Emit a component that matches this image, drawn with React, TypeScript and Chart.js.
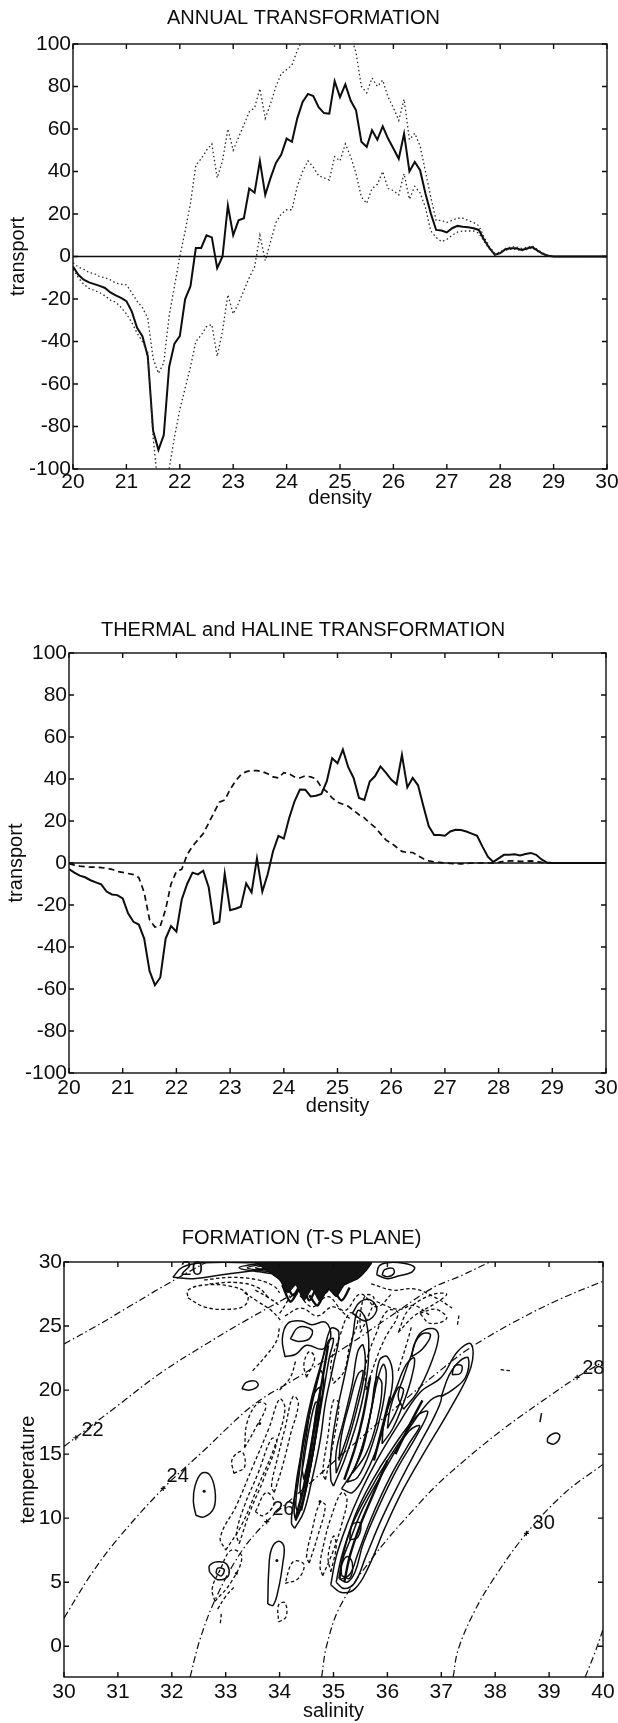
import React, { useEffect, useRef } from 'react';
import { Chart, registerables } from 'chart.js';

Chart.register(...registerables);

const FONT = '"Liberation Sans", Arial, Helvetica, sans-serif';
const INK = '#0d0d0d';

// ---------- Panel 1 & 2 : density axis ----------
const density = [
  20.0, 20.1, 20.2, 20.3, 20.4, 20.5, 20.6, 20.7, 20.8, 20.9,
  21.0, 21.1, 21.2, 21.3, 21.4, 21.5, 21.6, 21.7, 21.8, 21.9,
  22.0, 22.1, 22.2, 22.3, 22.4, 22.5, 22.6, 22.7, 22.8, 22.9,
  23.0, 23.1, 23.2, 23.3, 23.4, 23.5, 23.6, 23.7, 23.8, 23.9,
  24.0, 24.1, 24.2, 24.3, 24.4, 24.5, 24.6, 24.7, 24.8, 24.9,
  25.0, 25.1, 25.2, 25.3, 25.4, 25.5, 25.6, 25.7, 25.8, 25.9,
  26.0, 26.1, 26.2, 26.3, 26.4, 26.5, 26.6, 26.7, 26.8, 26.9,
  27.0, 27.1, 27.2, 27.3, 27.4, 27.5, 27.6, 27.7, 27.8, 27.9,
  28.0, 28.1, 28.2, 28.3, 28.4, 28.5, 28.6, 28.7, 28.8, 28.9,
  29.0, 30.0,
];

const annualMean = [
  -4.7, -8.6, -10.9, -12.2, -13, -13.8, -14.8, -16.9, -18.3, -19.5,
  -21, -25.8, -33.6, -37.5, -46.9, -82, -91, -84, -52, -41,
  -37.5, -20, -14, 4, 4, 10, 9, -5.5, 0, 24,
  10, 17, 18, 32, 30, 45, 29, 37, 44, 48,
  55.5, 54, 65, 72.7, 76.5, 75.5, 70.3, 67.5, 67.2, 82.5,
  75, 81, 73.4, 68.8, 54, 51.6, 59.4, 55, 61.3, 55.5,
  50.8, 46, 57.8, 40, 44.5, 40.6, 29.7, 20.3, 12.5, 12.2,
  11.3, 13.3, 14.4, 14, 13.8, 13.3, 12.5, 7.8, 3.9, 0.8,
  1.6, 3.4, 3.9, 3.9, 3.1, 3.8, 4.4, 2.8, 1.3, 0.3,
  0, 0,
];

const annualUpper = [
  -3, -5, -6, -7.5, -8, -9.5, -10, -11, -12.5, -13,
  -13.3, -17, -21, -24, -29, -48, -55, -50, -28, -14,
  0, 12, 25, 43, 46, 50, 53, 37, 45, 60,
  50, 56, 62, 68, 70, 79, 65, 72, 80, 86,
  88, 90, 97, 102, 106, 108, 108, 105, 101, 99,
  102, 100, 104, 96, 80, 77, 84, 80, 83, 75,
  70, 64, 74, 55, 58, 52, 40, 28, 17, 17,
  16, 17, 18, 18, 17, 16, 14.5, 9, 4.5, 1.5,
  2, 3.8, 4.5, 4.5, 3.8, 4.3, 5, 3.3, 1.6, 0.5,
  0, 0,
];

const annualLower = [
  -6, -10, -13, -15, -16, -17, -18.5, -20.5, -21.5, -24,
  -27, -31, -36, -40, -45, -85, -110, -130, -100, -85,
  -72, -62, -52, -40, -37, -33, -32, -47, -35, -18,
  -27, -22, -16, -10, -5, 10, -2, 7, 16, 20,
  22, 22, 33, 40, 45, 42, 38, 37, 36, 47,
  45, 53, 47, 39, 28, 25, 32, 34, 40, 32,
  31, 29, 39, 27, 33, 30, 23, 12, 9, 7,
  8, 10, 11.5, 12, 12, 12, 11, 7, 3.5, 1,
  1.5, 3, 3.4, 3.4, 2.6, 3.3, 4, 2.4, 1, 0.2,
  0, 0,
];

const thermal = [
  -2.9, -4.6, -6, -6.8, -8.2, -9.2, -10.2, -13.6, -15, -15.3,
  -16.9, -24, -28, -29.3, -36, -51.4, -58.2, -54.5, -36, -30,
  -32.7, -17.4, -10, -4.6, -5.4, -3.7, -11.4, -29, -28, -5,
  -22.5, -21.8, -20.8, -9.7, -14, 2.2, -13.6, -5.4, 5.6, 12.9,
  11.6, 21.4, 29.4, 35, 34.9, 31.7, 32, 32.9, 38.8, 49.9,
  47.5, 54, 45.6, 40.5, 31, 30, 38.8, 41.4, 46, 43,
  39.7, 37.5, 51.5, 36, 40.5, 37, 27, 17.5, 13.3, 13.3,
  13, 15, 15.8, 15.7, 15, 14, 13, 7.8, 3, 0.5,
  2.2, 3.9, 3.9, 4.2, 3.6, 4.3, 4.8, 3.9, 1.7, 0.2,
  0, 0,
];

const haline = [
  -0.3, -1, -1.5, -1.7, -2, -2, -2.2, -2.5, -3, -4,
  -4.5, -5, -5.5, -7, -14, -27, -30.5, -30, -22, -10,
  -4, -3, 4, 8, 11, 14, 19, 24, 29, 30,
  35, 39, 42, 43.5, 44, 44, 43.5, 42.5, 41, 40.5,
  43, 42.5, 41, 40.5, 41.5, 41, 40, 36, 34, 31,
  29, 28, 27, 25, 23, 21.5, 19, 17, 14, 11,
  9.5, 7.5, 5.5, 5, 5, 3.5, 2, 1, 0.5, 0.3,
  0, -0.2, -0.3, -0.4, -0.2, 0, 0, 0, 0, 0,
  0.3, 0.8, 1, 1, 0.8, 0.8, 1, 0.8, 0.3, 0,
  0, 0,
];

const zeroLineX = [20, 30];
const zeroLineY = [0, 0];

const densityTicks = [20, 21, 22, 23, 24, 25, 26, 27, 28, 29, 30];
const transportTicks = [-100, -80, -60, -40, -20, 0, 20, 40, 60, 80, 100];

// ---------- Panel 3 : T-S plane ----------
const salinityTicks = [30, 31, 32, 33, 34, 35, 36, 37, 38, 39, 40];
const temperatureTicks = [0, 5, 10, 15, 20, 25, 30];

// isopycnals (salinity, temperature)
const iso20 = [[30, 23.6], [30.6, 25.0], [31.2, 26.5], [31.8, 28.0], [32.3, 29.2], [32.65, 30]];
const iso22 = [[30, 15.6], [30.5, 17.2], [31.0, 18.8], [31.78, 21.3], [32.6, 23.5], [33.4, 25.5], [34.3, 27.6], [35.2, 29.5], [35.45, 30]];
const iso24 = [[30, 2.2], [30.5, 5.6], [31.0, 8.4], [31.84, 12.32], [32.6, 15.3], [33.5, 18.8], [34.3, 20.9], [35.2, 23.3], [36.0, 25.6], [36.85, 28.0], [37.35, 28.9], [37.9, 30]];
const iso26 = [[32.34, -2.4], [32.52, 0.5], [32.8, 3.6], [33.27, 7.26], [33.76, 9.73], [34.5, 12.5], [35.3, 15.5], [36.2, 18.8], [37.0, 21.6], [37.5, 23.2], [38.3, 25.2], [39.2, 27.1], [40, 28.5]];
const iso28 = [[34.78, -2.4], [34.87, 0], [35.12, 3.1], [35.74, 7.0], [36.6, 11.2], [37.1, 13.3], [38.1, 16.8], [39.08, 19.75], [39.52, 21.0], [40, 22.2]];
const iso30 = [[37.22, -2.4], [37.31, -0.3], [37.6, 2.6], [37.96, 5.2], [38.58, 8.82], [39.3, 12.0], [40, 14.2]];
const iso32 = [[39.67, -2.4], [39.85, -0.5], [40, 1.3]];

const isoLabelText = ['20', '22', '24', '26', '28', '30'];
const isoLabelPos = [[32.37, 29.45], [30.53, 16.85], [32.11, 13.22], [34.07, 10.64], [39.82, 21.65], [38.9, 9.58]];
const isoMarkerPos = [[30.22, 16.28], [31.84, 12.32], [33.76, 9.73], [39.52, 21.0], [38.58, 8.82]];

// dense surface patch (overlapping contours merge into solid ink)
const surfacePatch = [[33.55, 30], [33.75, 29.4], [34.0, 28.6], [34.15, 27.6], [34.3, 28.2], [34.45, 27.0], [34.6, 27.9], [34.75, 26.9], [34.9, 27.9], [35.05, 27.3], [35.2, 28.2], [35.45, 28.7], [35.6, 29.3], [35.7, 30], [33.55, 30]];

// positive (solid) formation contours
const solidContours = [
  [[32.02, 28.8], [32.2, 29.6], [32.6, 29.95], [33.4, 29.95], [34.0, 29.8], [33.6, 29.4], [33.0, 29.05], [32.4, 28.7], [32.02, 28.8]],
  [[33.85, 30], [33.25, 29.55], [33.85, 29.1]],
  [[33.85, 29.92], [33.4, 29.55], [33.85, 29.22]],
  [[33.85, 29.82], [33.55, 29.55], [33.85, 29.35]],
  [[35.8, 29.0], [35.85, 29.7], [36.0, 29.95], [36.3, 29.9], [36.5, 29.6], [36.45, 29.2], [36.2, 28.9], [36.0, 28.7], [35.8, 29.0]],
  [[35.9, 29.0], [35.95, 29.4], [36.1, 29.5], [36.12, 29.1], [36.0, 28.85], [35.9, 29.0]],
  [[35.35, 26.0], [35.5, 26.9], [35.7, 27.0], [35.8, 26.2], [35.6, 25.4], [35.35, 26.0]],
  [[34.1, 22.6], [34.05, 24.0], [34.15, 25.2], [34.4, 25.4], [34.6, 25.1], [34.85, 25.3], [34.95, 24.2], [34.8, 23.2], [34.5, 23.5], [34.3, 22.8], [34.1, 22.6]],
  [[34.2, 24.0], [34.35, 24.9], [34.6, 24.7], [34.55, 24.0], [34.35, 23.8], [34.2, 24.0]],
  // band A
  [[34.28, 9.2], [34.45, 10.5], [34.6, 13], [34.75, 16], [34.85, 19], [35.0, 22], [35.1, 24.5], [34.95, 24.8], [34.8, 22.5], [34.6, 19.5], [34.45, 16.5], [34.35, 13.5], [34.25, 11], [34.22, 9.6], [34.28, 9.2]],
  [[34.3, 9.8], [34.42, 11], [34.55, 13.5], [34.68, 16.5], [34.8, 19.5], [34.92, 22.5], [35.0, 24], [34.9, 23.8], [34.72, 21], [34.55, 18], [34.4, 15], [34.3, 12.5], [34.27, 10.5], [34.3, 9.8]],
  [[34.35, 10.3], [34.5, 12.5], [34.62, 15], [34.72, 18], [34.82, 20.8], [34.75, 21.5], [34.6, 19], [34.45, 16], [34.35, 13], [34.3, 11], [34.35, 10.3]],
  [[34.4, 11.5], [34.52, 13.5], [34.63, 16.5], [34.72, 19], [34.66, 19], [34.55, 17], [34.45, 14.5], [34.38, 12.5], [34.4, 11.5]],
  [[34.45, 13], [34.58, 15.5], [34.68, 18.5], [34.75, 20.2], [34.62, 19.5], [34.5, 16.5], [34.42, 14], [34.45, 13]],
  [[35.0, 12.5], [35.2, 14.5], [35.4, 17], [35.55, 19.5], [35.65, 22.5], [35.6, 25.5], [35.45, 26.2], [35.35, 24], [35.2, 21], [35.05, 18], [34.95, 15], [34.95, 13], [35.0, 12.5]],
  [[35.05, 13.5], [35.25, 15.8], [35.42, 18.3], [35.58, 21.5], [35.55, 23.5], [35.45, 23.0], [35.35, 20.5], [35.2, 17.8], [35.05, 15.2], [35.05, 13.5]],
  [[35.1, 14.5], [35.3, 17], [35.45, 19.5], [35.55, 21.5], [35.45, 21.2], [35.3, 19], [35.15, 16.5], [35.1, 14.5]],
  // band C
  [[35.15, 12.3], [35.4, 14], [35.6, 16.5], [35.75, 19.5], [35.85, 22.3], [36.0, 22.6], [36.1, 21], [36.0, 18.5], [35.85, 16], [35.6, 13.5], [35.35, 12.0], [35.15, 12.3]],
  [[35.25, 12.8], [35.45, 14.5], [35.65, 17.5], [35.8, 20.5], [35.92, 22.0], [35.98, 21.2], [35.9, 18.5], [35.7, 15.5], [35.45, 13.2], [35.25, 12.8]],
  [[35.35, 13.5], [35.55, 15.5], [35.7, 18.5], [35.8, 21], [35.9, 20.5], [35.8, 17.5], [35.6, 15], [35.35, 13.5]],
  [[35.9, 15.8], [36.1, 17], [36.3, 19], [36.45, 21], [36.5, 22.5], [36.35, 22], [36.15, 20], [35.95, 17.8], [35.9, 15.8]],
  [[36.0, 17.0], [36.15, 18.2], [36.3, 20], [36.2, 20.2], [36.05, 18.5], [36.0, 17.0]],
  // band B
  [[34.95, 4.8], [35.15, 4.2], [35.4, 4.5], [35.65, 6.2], [35.95, 9.2], [36.3, 12.3], [36.75, 15.6], [37.2, 18.8], [37.55, 21.8], [37.55, 23.6], [37.3, 23.0], [37.0, 21.0], [36.6, 19.8], [36.2, 17.3], [35.8, 14.5], [35.5, 12.0], [35.25, 9.5], [35.05, 7.0], [34.95, 4.8]],
  [[35.05, 5.0], [35.2, 4.5], [35.4, 5.0], [35.6, 7.0], [35.9, 10], [36.25, 13], [36.6, 15.8], [36.9, 18.2], [37.0, 19.5], [36.8, 19.2], [36.4, 17.0], [36.0, 14.5], [35.65, 12.0], [35.35, 9.5], [35.15, 7.0], [35.05, 5.0]],
  [[35.12, 5.2], [35.3, 5.6], [35.45, 7.2], [35.7, 10], [36.05, 13.2], [36.4, 15.8], [36.6, 17.2], [36.4, 16.8], [35.95, 13.8], [35.55, 10.8], [35.3, 8.2], [35.15, 6.5], [35.12, 5.2]],
  [[35.1, 5.3], [35.25, 5.0], [35.4, 5.8], [35.55, 8.0], [35.85, 11], [36.2, 14], [36.55, 16.5], [36.75, 18.3], [36.55, 18.0], [36.1, 15.5], [35.7, 12.8], [35.4, 10.2], [35.2, 7.5], [35.1, 5.3]],
  [[35.15, 5.5], [35.3, 5.3], [35.35, 6.5], [35.25, 7.0], [35.15, 6.3], [35.15, 5.5]],
  [[35.3, 8.3], [35.45, 8.5], [35.5, 9.6], [35.35, 9.5], [35.3, 8.3]],
  // band D
  [[37.0, 19.5], [37.2, 20.0], [37.45, 21.0], [37.5, 22.5], [37.35, 22.3], [37.15, 21.2], [37.0, 19.5]],
  [[37.2, 21.2], [37.35, 21.3], [37.38, 21.9], [37.25, 21.9], [37.2, 21.2]],
  [[36.3, 18.5], [36.55, 19.8], [36.8, 22], [36.95, 24.2], [36.85, 24.8], [36.6, 24.4], [36.45, 22.8], [36.3, 21], [36.2, 19.5], [36.3, 18.5]],
  [[36.45, 22.6], [36.65, 23.2], [36.8, 24.3], [36.65, 24.4], [36.5, 23.6], [36.45, 22.6]],
  // isolated cells
  [[33.3, 20.1], [33.45, 20.0], [33.6, 20.35], [33.55, 20.7], [33.38, 20.6], [33.3, 20.1]],
  [[32.45, 10.2], [32.6, 10.1], [32.78, 10.8], [32.8, 12.2], [32.7, 13.4], [32.55, 13.5], [32.43, 12.5], [32.4, 11.3], [32.45, 10.2]],
  [[32.7, 5.8], [32.85, 5.2], [33.05, 5.5], [33.02, 6.4], [32.85, 6.6], [32.7, 6.3], [32.7, 5.8]],
  [[32.82, 5.7], [32.92, 5.5], [32.97, 6.0], [32.85, 6.1], [32.82, 5.7]],
  [[33.78, 3.3], [33.88, 3.2], [33.98, 4.5], [34.06, 6.5], [34.08, 7.8], [33.98, 8.2], [33.85, 7.6], [33.8, 6.0], [33.78, 3.3]],
  [[38.97, 15.9], [39.1, 15.8], [39.2, 16.4], [39.12, 16.65], [38.98, 16.3], [38.97, 15.9]],
  [[38.83, 17.5], [38.86, 18.2]],
];

// densely packed contours (merging into heavy ink)
const denseContours = [
  [[33.55, 30], [33.7, 29.6], [33.9, 29.0], [34.1, 28.4], [34.25, 27.4], [34.4, 28.2], [34.55, 27.0], [34.7, 28.0], [34.85, 27.6], [35.0, 28.5], [35.2, 28.3], [35.4, 29.0], [35.6, 29.6], [35.65, 30]],
  [[34.05, 28.2], [34.2, 26.9], [34.35, 27.8]],
  [[34.55, 27.4], [34.7, 26.6], [34.82, 27.5]],
  [[35.0, 27.9], [35.15, 27.0], [35.3, 28.0]],
  [[34.3, 10.0], [34.45, 12.5], [34.58, 15.5], [34.7, 18.5], [34.82, 21.5], [34.9, 23.5]],
  [[34.4, 10.6], [34.52, 13.0], [34.65, 16.0], [34.78, 19.5]],
  [[35.2, 13.0], [35.4, 15.5], [35.55, 18.0], [35.68, 21.0]],
  [[35.75, 14.5], [35.9, 17.0], [36.05, 19.5]],
  [[35.2, 5.0], [35.3, 7.0], [35.5, 9.5], [35.75, 12.0], [36.0, 14.5]],
  [[36.15, 15.0], [36.4, 17.2], [36.65, 19.2]],
];

// negative (dashed) formation contours
const dashedContours = [
  [[32.3, 27.2], [32.6, 26.5], [33.0, 26.3], [33.35, 26.6], [33.4, 27.5], [33.1, 28.1], [32.6, 28.2], [32.3, 27.8], [32.3, 27.2]],
  [[32.6, 28.6], [33.1, 28.8], [33.6, 28.6], [33.9, 28.1], [34.0, 27.6]],
  [[32.7, 28.3], [33.2, 28.4], [33.6, 28.0], [33.8, 27.2]],
  [[33.35, 27.6], [33.6, 26.9], [33.85, 26.2], [34.05, 25.3]],
  [[33.55, 27.8], [33.8, 27.2], [34.0, 26.6]],
  [[34.0, 26.0], [34.3, 27.5], [34.6, 26.5], [34.9, 27.3], [35.2, 26.2], [35.5, 27.5], [35.8, 26.5], [36.1, 27.6]],
  [[34.1, 25.8], [34.4, 26.4], [34.7, 25.8], [35.0, 26.5], [35.3, 25.6]],
  [[35.7, 28.3], [36.1, 27.8], [36.5, 27.9], [36.9, 27.2], [37.2, 26.4]],
  [[35.8, 26.9], [36.2, 26.3], [36.5, 26.6], [36.8, 25.8]],
  [[36.6, 26.0], [36.9, 26.3], [37.1, 25.6], [36.8, 25.2], [36.6, 26.0]],
  [[36.2, 24.5], [36.5, 25.8], [36.9, 26.8], [37.1, 27.5], [36.8, 27.4], [36.4, 26.3], [36.2, 24.5]],
  [[35.5, 24.5], [35.65, 25.8], [35.75, 27.2], [35.6, 27.4], [35.5, 26], [35.5, 24.5]],
  [[35.6, 20], [35.8, 22.5], [35.95, 24], [36.2, 26], [36.0, 26.2], [35.8, 24.5], [35.6, 22], [35.6, 20]],
  [[36.2, 21.5], [36.35, 23.5], [36.45, 25.0]],
  [[35.0, 20.5], [35.2, 21.5], [35.3, 23.5], [35.45, 25.5], [35.3, 26], [35.1, 24], [34.95, 22], [35.0, 20.5]],
  [[34.5, 21], [34.65, 22.5], [34.55, 23], [34.45, 22], [34.5, 21]],
  [[33.5, 21.5], [33.75, 22.7], [33.95, 23.9], [34.0, 25.0]],
  [[34.0, 20.0], [34.2, 21.0], [34.3, 22.3]],
  [[33.0, 7.5], [33.3, 9.5], [33.6, 12.5], [33.9, 15.5], [34.1, 18.5], [34.0, 19.3], [33.8, 17], [33.5, 14], [33.2, 11], [32.9, 8.5], [33.0, 7.5]],
  [[33.25, 8], [33.45, 10.5], [33.7, 13], [33.95, 16], [33.85, 16.2], [33.6, 13.5], [33.35, 11], [33.2, 8.8], [33.25, 8]],
  [[33.55, 10.5], [33.75, 12], [33.9, 11.2], [33.7, 10.2], [33.55, 10.5]],
  [[33.15, 13.5], [33.35, 14], [33.3, 15.2], [33.12, 14.6], [33.15, 13.5]],
  [[33.35, 15.5], [33.55, 17], [33.75, 18.8], [33.6, 19], [33.4, 17.5], [33.35, 15.5]],
  [[33.9, 12], [34.05, 14], [34.2, 16.5], [34.35, 19], [34.25, 19.5], [34.1, 17], [33.95, 14.5], [33.85, 12.5], [33.9, 12]],
  [[34.85, 13], [35.0, 16], [35.1, 19], [35.0, 19.2], [34.9, 16.5], [34.8, 13.5], [34.85, 13]],
  [[32.8, 3.5], [33.1, 5], [33.3, 7], [33.1, 7.5], [32.9, 6], [32.75, 4.5], [32.8, 3.5]],
  [[32.85, 2.9], [33.0, 3.9], [33.15, 4.6]],
  [[34.8, 5.5], [35.0, 7.5], [35.15, 9.5], [35.25, 11.5], [35.15, 12], [34.95, 10], [34.82, 8], [34.75, 6.2], [34.8, 5.5]],
  [[34.55, 6.5], [34.7, 8.5], [34.85, 11], [34.75, 11.2], [34.6, 9], [34.5, 7], [34.55, 6.5]],
  [[34.95, 5.8], [35.05, 7.8], [35.0, 8.6], [34.9, 7], [34.95, 5.8]],
  [[34.1, 4.9], [34.35, 5.3], [34.45, 6.4], [34.25, 6.6], [34.1, 4.9]],
  [[33.98, 1.9], [34.12, 2.3], [34.1, 3.4], [33.98, 3.2], [33.98, 1.9]],
  [[32.9, 1.8], [32.92, 2.6]],
  [[38.1, 21.6], [38.3, 21.5]],
  [[37.3, 25.1], [37.33, 25.9]],
];

const contourDots = [[32.6, 12.1], [33.95, 6.7], [33.63, 17.4], [34.75, 11.3], [33.2, 5.7]];

// ---------- helpers ----------
const toPts = (xs: number[], ys: number[]) => xs.map((x, i) => ({ x, y: ys[i] }));
const pairPts = (arr: number[][]) => arr.map(([x, y]) => ({ x, y }));

const framePlugin = {
  id: 'matlabFrame',
  afterDatasetsDraw(chart: any) {
    const { ctx, chartArea: a, scales } = chart;
    ctx.save();
    ctx.strokeStyle = INK;
    ctx.lineWidth = 1.4;
    ctx.strokeRect(a.left, a.top, a.right - a.left, a.bottom - a.top);
    const L = 5;
    ctx.beginPath();
    scales.x.ticks.forEach((t: any) => {
      const px = scales.x.getPixelForValue(t.value);
      ctx.moveTo(px, a.bottom);
      ctx.lineTo(px, a.bottom - L);
      ctx.moveTo(px, a.top);
      ctx.lineTo(px, a.top + L);
    });
    scales.y.ticks.forEach((t: any) => {
      const py = scales.y.getPixelForValue(t.value);
      ctx.moveTo(a.left, py);
      ctx.lineTo(a.left + L, py);
      ctx.moveTo(a.right, py);
      ctx.lineTo(a.right - L, py);
    });
    ctx.stroke();
    ctx.restore();
  },
};

const isoLabelPlugin = {
  id: 'isoLabels',
  afterDatasetsDraw(chart: any) {
    const { ctx, scales } = chart;
    ctx.save();
    ctx.fillStyle = INK;
    ctx.strokeStyle = INK;
    ctx.font = `20px ${FONT}`;
    ctx.textAlign = 'center';
    ctx.textBaseline = 'middle';
    isoLabelText.forEach((t, i) => {
      const [s, T] = isoLabelPos[i];
      ctx.fillText(t, scales.x.getPixelForValue(s), scales.y.getPixelForValue(T));
    });
    ctx.lineWidth = 1.2;
    ctx.beginPath();
    isoMarkerPos.forEach(([s, T]) => {
      const px = scales.x.getPixelForValue(s);
      const py = scales.y.getPixelForValue(T);
      ctx.moveTo(px - 2.5, py);
      ctx.lineTo(px + 2.5, py);
      ctx.moveTo(px, py - 2.5);
      ctx.lineTo(px, py + 2.5);
    });
    ctx.stroke();
    ctx.restore();
  },
};

type PanelLayout = {
  title: string;
  titlePad: [number, number];
  xTitle: string;
  yTitle: string;
  xMin: number;
  xMax: number;
  yMin: number;
  yMax: number;
  xTicks: number[];
  yTicks: number[];
  yWidth: number;
  rightPad: number;
  xHeight: number;
  xTickPad: number;
  xTitlePadBottom: number;
  yTitlePadTop: number;
};

function makeOptions(p: PanelLayout) {
  const tickFont = { family: FONT, size: 21 };
  const labelFont = { family: FONT, size: 20 };
  return {
    responsive: false,
    animation: false as const,
    events: [] as any[],
    layout: { padding: { left: 0, right: p.rightPad, top: 0, bottom: 0 } },
    plugins: {
      legend: { display: false },
      tooltip: { enabled: false },
      title: {
        display: true,
        text: p.title,
        color: INK,
        font: { family: FONT, size: 20, weight: 'normal' as const },
        padding: { top: p.titlePad[0], bottom: p.titlePad[1] },
      },
    },
    scales: {
      x: {
        type: 'linear' as const,
        min: p.xMin,
        max: p.xMax,
        afterBuildTicks: (s: any) => {
          s.ticks = p.xTicks.map((v) => ({ value: v }));
        },
        ticks: { font: tickFont, color: INK, padding: p.xTickPad, maxRotation: 0, autoSkip: false },
        grid: { display: false, drawTicks: false },
        border: { display: false },
        title: { display: true, text: p.xTitle, color: INK, font: labelFont, padding: { top: 0, bottom: p.xTitlePadBottom } },
        afterFit: (s: any) => {
          s.height = p.xHeight;
          s.paddingLeft = 0;
          s.paddingRight = 0;
        },
      },
      y: {
        type: 'linear' as const,
        min: p.yMin,
        max: p.yMax,
        afterBuildTicks: (s: any) => {
          s.ticks = p.yTicks.map((v) => ({ value: v }));
        },
        ticks: { font: tickFont, color: INK, padding: 2, autoSkip: false },
        grid: { display: false, drawTicks: false },
        border: { display: false },
        title: { display: true, text: p.yTitle, color: INK, font: labelFont, padding: { top: p.yTitlePadTop, bottom: 0 } },
        afterFit: (s: any) => {
          s.width = p.yWidth;
          s.paddingTop = 0;
          s.paddingBottom = 0;
        },
      },
    },
  };
}

const lineBase = { showLine: true, pointRadius: 0, fill: false, borderColor: INK, backgroundColor: INK };

function buildPanel1() {
  return {
    type: 'scatter' as const,
    data: {
      datasets: [
        { ...lineBase, label: 'zero', data: toPts(zeroLineX, zeroLineY), borderWidth: 1.7 },
        { ...lineBase, label: 'upper', data: toPts(density, annualUpper), borderWidth: 1.3, borderColor: '#2a2a2a', borderDash: [1.5, 2.6] },
        { ...lineBase, label: 'lower', data: toPts(density, annualLower), borderWidth: 1.3, borderColor: '#2a2a2a', borderDash: [1.5, 2.6] },
        { ...lineBase, label: 'annual', data: toPts(density, annualMean), borderWidth: 2.0 },
      ],
    },
    options: makeOptions({
      title: 'ANNUAL TRANSFORMATION',
      titlePad: [6, 14],
      xTitle: 'density',
      yTitle: 'transport',
      xMin: 20, xMax: 30, yMin: -100, yMax: 100,
      xTicks: densityTicks, yTicks: transportTicks,
      yWidth: 73, rightPad: 11, xHeight: 51, xTickPad: 1, xTitlePadBottom: 10, yTitlePadTop: 6,
    }),
    plugins: [framePlugin],
  };
}

function buildPanel2() {
  return {
    type: 'scatter' as const,
    data: {
      datasets: [
        { ...lineBase, label: 'zero', data: toPts(zeroLineX, zeroLineY), borderWidth: 1.7 },
        { ...lineBase, label: 'haline', data: toPts(density, haline), borderWidth: 1.7, borderDash: [6, 4] },
        { ...lineBase, label: 'thermal', data: toPts(density, thermal), borderWidth: 2.0 },
      ],
    },
    options: makeOptions({
      title: 'THERMAL and HALINE TRANSFORMATION',
      titlePad: [18, 11],
      xTitle: 'density',
      yTitle: 'transport',
      xMin: 20, xMax: 30, yMin: -100, yMax: 100,
      xTicks: densityTicks, yTicks: transportTicks,
      yWidth: 69, rightPad: 12, xHeight: 57, xTickPad: 3, xTitlePadBottom: 12, yTitlePadTop: 4,
    }),
    plugins: [framePlugin],
  };
}

function buildPanel3() {
  const isoLines = [iso20, iso22, iso24, iso26, iso28, iso30, iso32];
  const datasets: any[] = [];
  datasets.push({ label: 'surface', data: pairPts(surfacePatch), showLine: true, pointRadius: 0, borderWidth: 1.2, borderColor: INK, backgroundColor: '#141414', fill: 'shape', tension: 0.2 });
  isoLines.forEach((l, i) =>
    datasets.push({ ...lineBase, label: 'iso' + i, data: pairPts(l), borderWidth: 1.2, borderDash: [7, 3, 1.5, 3], tension: 0.35 }),
  );
  solidContours.forEach((l, i) =>
    datasets.push({ ...lineBase, label: 'pos' + i, data: pairPts(l), borderWidth: 1.5, tension: 0.4 }),
  );
  denseContours.forEach((l, i) =>
    datasets.push({ ...lineBase, label: 'dense' + i, data: pairPts(l), borderWidth: 2.4, tension: 0.3 }),
  );
  dashedContours.forEach((l, i) =>
    datasets.push({ ...lineBase, label: 'neg' + i, data: pairPts(l), borderWidth: 1.3, borderDash: [3.5, 2.5], tension: 0.4 }),
  );
  datasets.push({ label: 'dots', data: pairPts(contourDots), showLine: false, pointRadius: 1.5, borderWidth: 0, backgroundColor: INK });
  return {
    type: 'scatter' as const,
    data: { datasets },
    options: makeOptions({
      title: 'FORMATION (T-S PLANE)',
      titlePad: [26, 12],
      xTitle: 'salinity',
      yTitle: 'temperature',
      xMin: 30, xMax: 40, yMin: -2.4, yMax: 30,
      xTicks: salinityTicks, yTicks: temperatureTicks,
      yWidth: 64, rightPad: 15, xHeight: 46, xTickPad: 3, xTitlePadBottom: 0, yTitlePadTop: 16,
    }),
    plugins: [framePlugin, isoLabelPlugin],
  };
}

function Panel({ top, height, build }: { top: number; height: number; build: () => any }) {
  const ref = useRef<HTMLCanvasElement | null>(null);
  useEffect(() => {
    if (!ref.current) return;
    const chart = new Chart(ref.current, build());
    return () => chart.destroy();
  }, [build]);
  return (
    <div style={{ position: 'absolute', left: 0, top, width: 618, height }}>
      <canvas ref={ref} width={618} height={height} style={{ display: 'block', width: 618, height }} />
    </div>
  );
}

export default function App() {
  return (
    <div style={{ position: 'absolute', left: 0, top: 0, width: 618, height: 1723, background: '#fff', overflow: 'hidden' }}>
      <Panel top={0} height={520} build={buildPanel1} />
      <Panel top={600} height={530} build={buildPanel2} />
      <Panel top={1200} height={523} build={buildPanel3} />
    </div>
  );
}
